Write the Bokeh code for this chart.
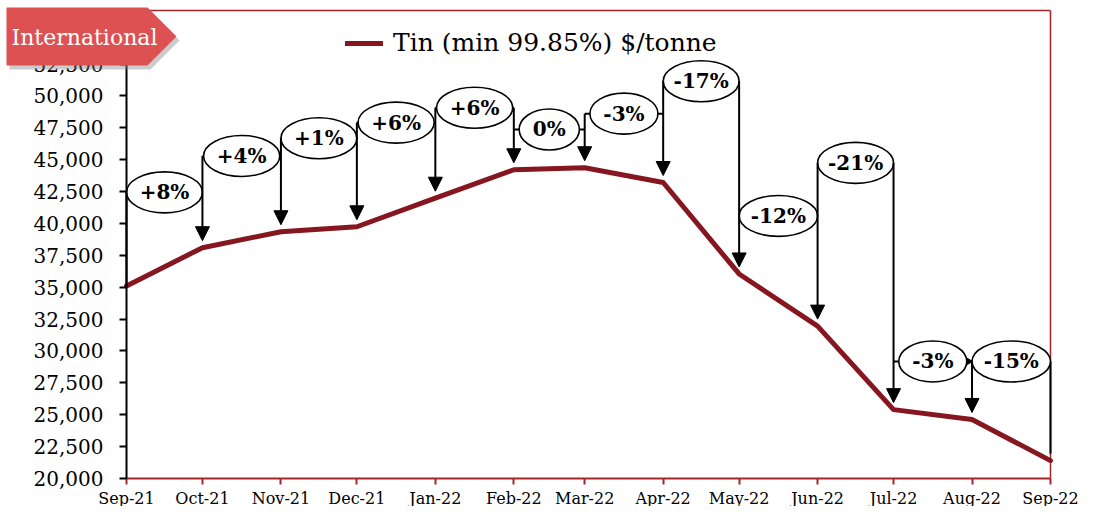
import math
import pandas as pd
from bokeh.plotting import figure
from bokeh.models import (Range1d, FixedTicker, DatetimeTickFormatter, NumeralTickFormatter,
                          Arrow, NormalHead, PolyAnnotation, Label, Legend, LegendItem,
                          ColumnDataSource)
from bokeh.embed import file_html
from bokeh.resources import INLINE
from bokeh.core.properties import value

# ---------------- data ----------------
months = ["2021-09-01", "2021-10-01", "2021-11-01", "2021-12-01", "2022-01-01",
          "2022-02-01", "2022-03-01", "2022-04-01", "2022-05-01", "2022-06-01",
          "2022-07-01", "2022-08-01", "2022-09-01"]
tin_price = [35100, 38100, 39350, 39740, 41980, 44210, 44370, 43210, 36040,
             31950, 25400, 24630, 21400]
mom_change = ["+8%", "+4%", "+1%", "+6%", "+6%", "0%", "-3%", "-17%", "-12%",
              "-21%", "-3%", "-15%"]
# height (in $/tonne) at which each change bubble sits
bubble_level = [42440, 45290, 46680, 47910, 49070, 47370, 48610, 51150, 40590,
                44750, 29180, 29180]
y_ticks = list(range(20000, 55001, 2500))
series_name = "Tin (min 99.85%) $/tonne"
badge_text = "International"

# ---------------- layout ----------------
W, H = 1080, 506
TOP, BOT = 10, 478          # canvas px of the value-axis top (56,700) and 20,000
AX_L, AX_R = 126, 1050      # canvas px of first / last month
Y0, Y1 = 20000, 56700
RED = "#A3262A"
LINE_RED = "#86161F"
SERIF = "DejaVu Serif"

dates = pd.to_datetime(months)
ms = [d.value / 1e6 for d in dates]
px_per_ms = (AX_R - AX_L) / (ms[-1] - ms[0])
val_per_px = (Y1 - Y0) / (BOT - TOP)
tip_gap = 7 * val_per_px

# frame covers the whole canvas; axes are pinned with fixed_location
x_start = ms[0] - AX_L / px_per_ms
x_end = ms[-1] + (W - AX_R) / px_per_ms
y_start = Y0 - (H - BOT) * val_per_px
y_end = Y1 + TOP * val_per_px

p = figure(width=W, height=H, x_axis_type="datetime", output_backend="svg",
           toolbar_location=None,
           x_range=Range1d(x_start, x_end), y_range=Range1d(y_start, y_end),
           min_border_left=0, min_border_right=0,
           min_border_top=0, min_border_bottom=0)
p.xgrid.visible = False
p.ygrid.visible = False
p.outline_line_color = None
p.background_fill_color = "white"
p.border_fill_color = "white"

# axes
p.xaxis.fixed_location = Y0
p.xaxis.ticker = FixedTicker(ticks=ms)
p.xaxis.bounds = (ms[0], ms[-1])
fmt = "%b-%y"
p.xaxis.formatter = DatetimeTickFormatter(days=fmt, months=fmt, years=fmt)
p.xaxis.axis_line_color = RED
p.xaxis.axis_line_width = 2
p.xaxis.major_tick_line_color = RED
p.xaxis.major_tick_line_width = 2
p.xaxis.major_tick_out = 6
p.xaxis.major_tick_in = 0
p.xaxis.minor_tick_line_color = None
p.xaxis.major_label_standoff = 4
p.xaxis.major_label_text_font = SERIF
p.xaxis.major_label_text_font_size = "16px"
p.xaxis.major_label_text_color = "black"

p.yaxis.fixed_location = ms[0]
p.yaxis.ticker = FixedTicker(ticks=y_ticks)
p.yaxis.bounds = (Y0, Y1)
p.yaxis.formatter = NumeralTickFormatter(format="0,0")
p.yaxis.axis_line_color = "black"
p.yaxis.axis_line_width = 2
p.yaxis.major_tick_line_color = "black"
p.yaxis.major_tick_line_width = 2
p.yaxis.major_tick_out = 7
p.yaxis.major_tick_in = 0
p.yaxis.minor_tick_line_color = None
p.yaxis.major_label_standoff = 16
p.yaxis.major_label_text_font = SERIF
p.yaxis.major_label_text_font_size = "20px"
p.yaxis.major_label_text_color = "black"

# plot-area border (top and right)
p.segment(x0=[ms[0], ms[-1]], y0=[Y1, Y0], x1=[ms[-1], ms[-1]], y1=[Y1, Y1],
          line_color=RED, line_width=1.5)

# price line
r_line = p.line(x=ms, y=tin_price, line_color=LINE_RED, line_width=5,
                line_cap="round", line_join="round")

# bubbles geometry
char_w = {"+": 0.838, "-": 0.411, "%": 1.0}
mid = [(ms[i] + ms[i + 1]) / 2 for i in range(len(mom_change))]
widths = []
for i, t in enumerate(mom_change):
    tw = sum(char_w.get(c, 0.696) for c in t) * 19
    gap = (ms[i + 1] - ms[i]) * px_per_ms
    widths.append(min(gap, tw + 28))

# horizontal stubs at bubble level (covered by bubbles)
p.segment(x0=ms[:-1], y0=bubble_level, x1=ms[1:], y1=bubble_level,
          line_color="black", line_width=2)
# first and last verticals
p.segment(x0=[ms[0], ms[-1]], y0=[tin_price[0], bubble_level[-1]],
          x1=[ms[0], ms[-1]], y1=[bubble_level[0], tin_price[-1] + tip_gap],
          line_color="black", line_width=2)
# arrows at intermediate months
for i in range(1, len(ms) - 1):
    top = max(bubble_level[i - 1], bubble_level[i])
    p.add_layout(Arrow(end=NormalHead(size=14, fill_color="black", line_color="black"),
                       x_start=ms[i], y_start=top, x_end=ms[i],
                       y_end=tin_price[i] + tip_gap,
                       line_color="black", line_width=2))
# small pointer where the Jul->Aug bubble stub meets the Aug line
p.scatter(x=[ms[11] - 4 / px_per_ms], y=[bubble_level[10]], marker="triangle",
          angle=-math.pi / 2, size=8, fill_color="black", line_color="black")

src = ColumnDataSource(dict(x=mid, y=bubble_level, w=widths, t=mom_change))
p.ellipse(x="x", y="y", width="w", height=41, width_units="screen",
          height_units="screen", source=src, fill_color="white",
          line_color="black", line_width=1.6)
p.text(x="x", y="y", text="t", source=src, text_font=value(SERIF),
       text_font_style="bold", text_font_size="20px", text_align="center",
       text_baseline="middle", text_color="black")

# legend
legend = Legend(items=[LegendItem(label=series_name, renderers=[r_line])],
                location=(345, H - 57), orientation="horizontal",
                label_text_font=SERIF, label_text_font_size="25px",
                label_text_color="black", glyph_width=38, glyph_height=28,
                label_height=28, label_standoff=10, padding=0, margin=0,
                background_fill_alpha=0, border_line_color=None)
p.add_layout(legend)

# badge (screen coords relative to frame bottom-left = canvas bottom-left)
bx = [6, 147, 176, 147, 6]
by = [7, 7, 36, 65, 65]
sx = bx
sy = [H - y for y in by]
p.add_layout(PolyAnnotation(xs=[x + 3 for x in sx], ys=[y - 4 for y in sy],
                            xs_units="screen", ys_units="screen",
                            fill_color="#808080", fill_alpha=0.4,
                            line_color=None, level="overlay"))
p.add_layout(PolyAnnotation(xs=sx, ys=sy, xs_units="screen", ys_units="screen",
                            fill_color="#DE5152", fill_alpha=1.0,
                            line_color=None, level="overlay"))
p.add_layout(Label(x=11, y=H - 37, x_units="screen", y_units="screen",
                   text=badge_text, text_font=SERIF, text_font_size="22px",
                   text_color="white", text_baseline="middle", text_align="left",
                   level="overlay"))

open("out.html", "w").write(file_html(p, INLINE))
